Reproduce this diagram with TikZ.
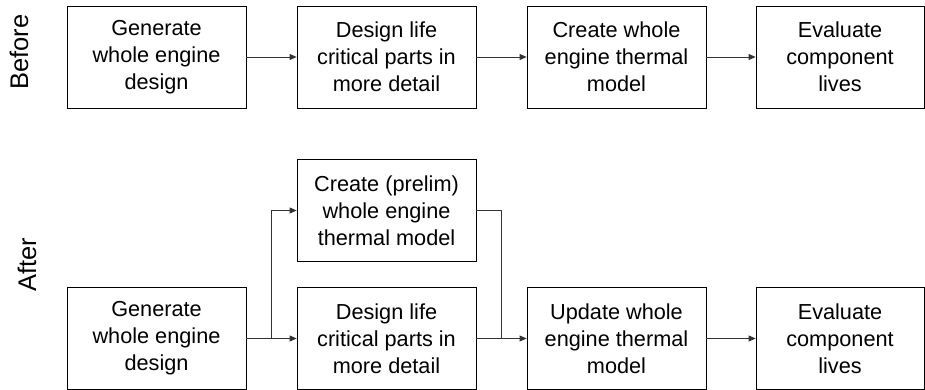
\documentclass[tikz,border=0pt]{standalone}
\usepackage{fontspec}
\setmainfont{Liberation Sans}
\usetikzlibrary{arrows.meta}
\begin{document}
\begin{tikzpicture}[x=1pt,y=-1pt,
  box/.style={draw=black,line width=0.8pt,minimum width=179pt,minimum height=102pt,
    align=center,inner sep=0pt,font=\fontsize{21.7}{27}\selectfont},
  arr/.style={draw=black!80,line width=0.8pt,-{Triangle[length=7pt,width=6pt]}},
  conn/.style={draw=black!80,line width=0.8pt},
  lbl/.style={rotate=90,font=\fontsize{25.5}{30}\selectfont}]
\useasboundingbox (0,0) rectangle (925,390);
% Before row
\node[box] (b1) at (156.5,57) {Generate\\whole engine\\design};
\node[box] (b2) at (386.5,57) {Design life\\critical parts in\\more detail};
\node[box] (b3) at (616.5,57) {Create whole\\engine thermal\\model};
\node[box,minimum width=168pt] (b4) at (840,57) {Evaluate\\component\\lives};
\draw[arr] (b1) -- (b2);
\draw[arr] (b2) -- (b3);
\draw[arr] (b3) -- (b4);
\node[lbl] (before) at (19,52) {Before};
% After row
\node[box] (p) at (386.5,210.5) {Create (prelim)\\whole engine\\thermal model};
\node[box] (a1) at (156.5,338.5) {Generate\\whole engine\\design};
\node[box] (a2) at (386.5,338.5) {Design life\\critical parts in\\more detail};
\node[box] (a3) at (616.5,338.5) {Update whole\\engine thermal\\model};
\node[box,minimum width=168pt] (a4) at (840,338.5) {Evaluate\\component\\lives};
\node[lbl] (after) at (27,265) {After};
\coordinate (branch) at (271,338.5);
\coordinate (merge) at (501,338.5);
\draw[arr] (a1) -- (a2);
\draw[arr] (branch) |- (p.west);
\draw[conn] (p.east) -| (merge);
\draw[arr] (a2) -- (a3);
\draw[arr] (a3) -- (a4);
\end{tikzpicture}
\end{document}
